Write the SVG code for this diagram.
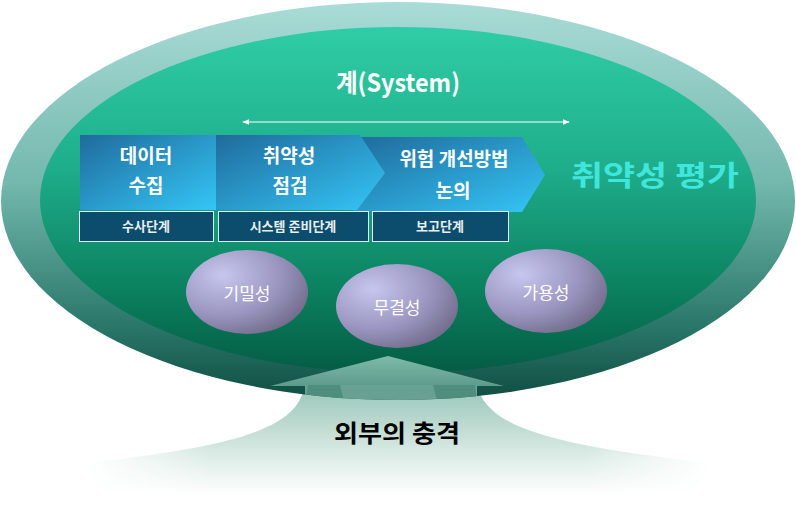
<svg xmlns="http://www.w3.org/2000/svg" width="796" height="516" viewBox="0 0 796 516">
<defs>
<linearGradient id="gOuter" x1="0" y1="0" x2="0" y2="1">
<stop offset="0" stop-color="#a9dcd6"/>
<stop offset="0.45" stop-color="#74b8ae"/>
<stop offset="0.8" stop-color="#2c7a6c"/>
<stop offset="1" stop-color="#0f4d42"/>
</linearGradient>
<linearGradient id="gInner" x1="0" y1="0" x2="0" y2="1">
<stop offset="0" stop-color="#2fcda6"/>
<stop offset="0.4" stop-color="#1fae8c"/>
<stop offset="0.75" stop-color="#0b8260"/>
<stop offset="1" stop-color="#045c44"/>
</linearGradient>
<linearGradient id="gBox" x1="0" y1="0" x2="1" y2="1">
<stop offset="0" stop-color="#1f6b9c"/>
<stop offset="1" stop-color="#34c6f6"/>
</linearGradient>
<radialGradient id="gBall" cx="0.3" cy="0.3" r="0.85">
<stop offset="0" stop-color="#c6c6ee"/>
<stop offset="0.55" stop-color="#9a96c0"/>
<stop offset="1" stop-color="#6a6480"/>
</radialGradient>
<linearGradient id="gGlow" gradientUnits="userSpaceOnUse" x1="0" y1="385" x2="0" y2="495">
<stop offset="0" stop-color="#98c5b8"/>
<stop offset="0.35" stop-color="#bcd9d0"/>
<stop offset="0.7" stop-color="#e2efeb"/>
<stop offset="1" stop-color="#ffffff"/>
</linearGradient>
<linearGradient id="gFadeH" x1="0" y1="0" x2="1" y2="0">
<stop offset="0" stop-color="#000"/>
<stop offset="0.2" stop-color="#fff"/>
<stop offset="0.8" stop-color="#fff"/>
<stop offset="1" stop-color="#000"/>
</linearGradient>
<mask id="mFade" maskUnits="userSpaceOnUse" x="0" y="0" width="796" height="516">
<rect x="85" y="370" width="627" height="130" fill="url(#gFadeH)"/>
</mask>
<linearGradient id="gHead" x1="0" y1="0" x2="0" y2="1">
<stop offset="0" stop-color="#9fd0c2"/>
<stop offset="1" stop-color="#6fae9e"/>
</linearGradient>
<clipPath id="cEll">
<ellipse cx="398" cy="201" rx="397" ry="199"/>
</clipPath>
<marker id="ah" viewBox="0 0 10 10" refX="9" refY="5" markerWidth="6" markerHeight="6" orient="auto-start-reverse">
<path d="M0,1 L10,5 L0,9 z" fill="#ffffff"/>
</marker>
<style>
.step{fill:#ffffff;font-family:"Noto Sans CJK KR","Noto Sans",sans-serif;font-weight:700;font-size:19px;text-anchor:middle}
.lbl{fill:#e8eef2;font-family:"Noto Sans CJK KR","Noto Sans",sans-serif;font-weight:700;font-size:13px;text-anchor:middle}
.lbox{fill:#0c4c6c;stroke:#d8eef4;stroke-width:1}
.ball{fill:url(#gBall)}
.bt{fill:#ffffff;font-family:"Noto Sans CJK KR","Noto Sans",sans-serif;font-weight:400;font-size:17px;text-anchor:middle}
</style>
</defs>
<rect width="796" height="516" fill="#ffffff"/>
<g id="impact-glow">
<path d="M305,380 C303,425 250,445 85,463 L85,498 L712,498 L712,463 C545,445 480,425 477,380 Z" fill="url(#gGlow)" mask="url(#mFade)"/>
</g>
<g id="system">
<ellipse cx="398" cy="201" rx="397" ry="199" fill="url(#gOuter)"/>
<ellipse cx="398" cy="200" rx="358" ry="173" fill="url(#gInner)"/>
<text x="398" y="92" fill="#ffffff" font-family="'Noto Sans CJK KR','Noto Sans',sans-serif" font-weight="700" font-size="25" text-anchor="middle" textLength="124" lengthAdjust="spacingAndGlyphs">계(System)</text>
</g>
<g id="connectors">
<line x1="243" y1="122" x2="569" y2="122" stroke="#ffffff" stroke-width="1.2" marker-start="url(#ah)" marker-end="url(#ah)"/>
<g id="impact-arrow" opacity="0.8" clip-path="url(#cEll)">
<polygon points="270,386 388,356 504,386" fill="url(#gHead)"/>
<rect x="305" y="385" width="172" height="20" fill="#7fb6a8"/>
<polygon points="308,385 340,385 345,405 305,405" fill="#5f9d8e"/>
<polygon points="433,385 475,385 477,405 438,405" fill="#5f9d8e"/>
</g>
</g>
<g id="step3">
<polygon points="353,137 522,137 545,175 522,212 353,212" fill="url(#gBox)"/>
<text class="step" x="454" y="166">위험 개선방법</text>
<text class="step" x="453" y="198">논의</text>
</g>
<g id="step2">
<polygon points="216,135 360,135 385,173 357,210 216,210" fill="url(#gBox)"/>
<text class="step" x="289" y="163">취약성</text>
<text class="step" x="290" y="193">점검</text>
</g>
<g id="step1">
<rect x="80" y="135" width="136" height="75" fill="url(#gBox)"/>
<text class="step" x="146" y="163">데이터</text>
<text class="step" x="146" y="193">수집</text>
</g>
<g id="label1">
<rect class="lbox" x="79.5" y="211.5" width="134" height="30"/>
<text class="lbl" x="146" y="231">수사단계</text>
</g>
<g id="label2">
<rect class="lbox" x="218.5" y="211.5" width="150" height="30"/>
<text class="lbl" x="293" y="231">시스템 준비단계</text>
</g>
<g id="label3">
<rect class="lbox" x="372.5" y="211.5" width="136" height="30"/>
<text class="lbl" x="440" y="231">보고단계</text>
</g>
<g id="assessment">
<text x="655" y="186" fill="#3fe6dc" font-family="'Noto Sans CJK KR','Noto Sans',sans-serif" font-weight="700" font-size="28" text-anchor="middle" textLength="168" lengthAdjust="spacingAndGlyphs">취약성 평가</text>
</g>
<g id="confidentiality">
<ellipse class="ball" cx="247" cy="292" rx="61" ry="42"/>
<text class="bt" x="247" y="300">기밀성</text>
</g>
<g id="integrity">
<ellipse class="ball" cx="397" cy="306" rx="61" ry="42"/>
<text class="bt" x="397" y="314">무결성</text>
</g>
<g id="availability">
<ellipse class="ball" cx="546" cy="291" rx="61" ry="42"/>
<text class="bt" x="546" y="299">가용성</text>
</g>
<g id="impact">
<text x="397" y="442" fill="#000000" font-family="'Noto Sans CJK KR','Noto Sans',sans-serif" font-weight="700" font-size="24" text-anchor="middle" textLength="126" lengthAdjust="spacingAndGlyphs">외부의 충격</text>
</g>
</svg>
